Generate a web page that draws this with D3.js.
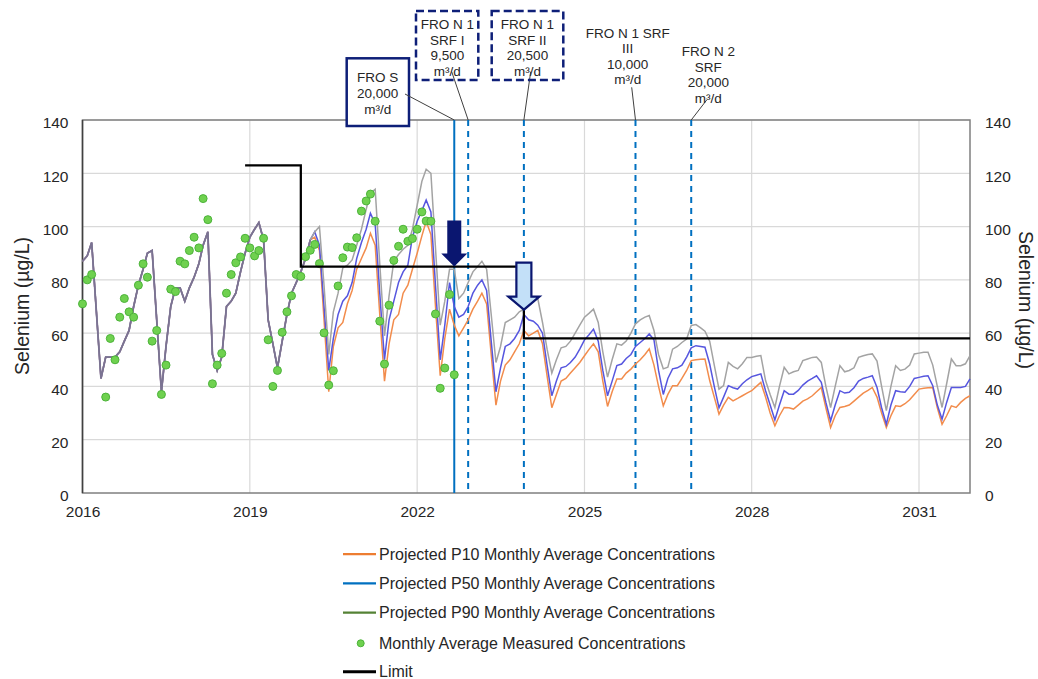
<!DOCTYPE html>
<html>
<head>
<meta charset="utf-8">
<script src="https://d3js.org/d3.v7.min.js"></script>
<style>
body { margin: 0; background: #fff; }
text { font-family: Arial, "Liberation Sans", sans-serif; fill: #262626; }
</style>
</head>
<body>
<svg id="chart" width="1038" height="679"></svg>
<script>

// ---- data (monthly, index 0 = Jan 2016) ----

// shared history Jan 2016 - Feb 2020 (all three projections sit on it)
var histVals = [
  87, 89, 94, 68, 43, 51, 51, 51, 53, 57, 61, 70,      // 2016
  78, 84, 90, 91, 65, 38, 55, 70, 77, 77, 72, 77,      // 2017
  81, 86, 93, 98, 52, 46, 51, 70, 72, 75, 83, 90,      // 2018
  96, 99, 101.5, 95, 65, 56, 47, 57, 67, 75, 79, 83,   // 2019
  88, 95                                              // Jan-Feb 2020
]

// projections Mar 2020 - Dec 2031
var p10Vals = [
  96, 91, 65, 38, 55, 62, 64, 71, 76, 84,
  88, 92, 97.5, 93, 67, 42, 56, 65, 67, 75, 78, 84,
  90, 96.5, 102, 97, 70, 44, 58, 69, 63, 59, 62, 65,
  69, 72, 75, 71, 52, 33, 42, 48, 50, 53, 56, 61,
  59, 60, 61, 56, 44, 32, 37, 42, 43, 45, 47, 49,
  51.5, 54, 56, 53, 42, 32.5, 38, 42.8, 42.8, 45, 46.5, 48.4,
  50, 52, 54.1, 48, 40, 32.7, 37, 40.3, 40.3, 43, 46, 49.7,
  50, 50.2, 50.3, 42.2, 36, 29.6, 33, 35.9, 34.6, 35.5, 36.5, 37.5,
  38.4, 40, 41.5, 36, 30, 25.2, 29, 32.1, 32, 31.5, 33, 34.5,
  35.3, 36.5, 38, 39.6, 32, 24.6, 29, 32.1, 32.5, 33, 34.5, 36,
  37.5, 38.5, 39.6, 36, 30, 24.6, 29, 32.7, 32.5, 33.5, 35, 37,
  39, 39.3, 39.5, 39.6, 32, 25.8, 29, 32.7, 32.1, 34, 35.5, 36.5
]
var p50Vals = [
  98, 93, 70, 46, 58, 67, 72, 74, 79, 88,
  94, 99, 105, 101, 75, 50, 65, 72, 79, 83, 85.5, 96,
  102, 106, 110, 105.5, 78, 50, 63, 79, 70, 66, 67, 70,
  75, 78, 80, 76, 57, 38, 47, 55, 56, 58, 61, 67,
  65, 64.5, 63, 60, 48, 36.5, 42, 47, 47.5, 49, 51, 54,
  57.5, 59.5, 61.5, 57, 46, 36.5, 42, 47.8, 48.4, 50.5, 52, 55,
  56.5, 58, 59.7, 57.5, 46, 37, 43, 46.6, 47, 48, 51, 54.5,
  55.3, 55, 54.7, 48.4, 40, 32, 36, 40.3, 39.5, 39, 41, 42.5,
  43.7, 44.2, 44.7, 38.4, 33, 27.4, 33, 38.4, 37.1, 37.1, 38.5, 40.5,
  42, 43, 44, 41.5, 34, 27.1, 33, 38.4, 37.5, 37.8, 39.5, 42,
  43, 43.5, 44, 39.6, 32, 25.8, 33, 38.4, 38, 37.8, 40, 43,
  43.4, 43.8, 44, 40.3, 33, 27.7, 34, 39.6, 39.6, 39.6, 40, 42.8
]
var p90Vals = [
  98, 100, 78, 52, 68, 75, 84.5, 85.5, 87.5, 93,
  99, 106.5, 112.5, 114, 86, 59, 74, 87, 89.5, 91.5, 93, 99,
  108, 117, 121.5, 120, 92, 63, 72, 84, 84, 73, 75, 79,
  83, 85, 87, 84, 67, 49, 55, 64, 65, 66, 68, 69,
  71, 72, 73, 64, 54, 45, 50, 54.5, 55, 57, 60, 63,
  66, 67.5, 69, 64, 53, 43.5, 50, 56, 55.5, 57, 60, 63.5,
  65, 66, 66.6, 61, 52, 46.6, 47.2, 54, 55, 56.5, 57.8, 62.9,
  63.2, 62, 60.7, 57, 48, 39, 40.3, 49, 47.5, 46.6, 48.5, 50.9,
  50.9, 51.3, 51.6, 42.2, 37, 32.1, 40, 47.2, 44.7, 45.5, 46, 49.7,
  50.3, 50.9, 51, 49, 40, 32.1, 40, 47.8, 45.5, 46, 47, 50.9,
  51.5, 52, 52.2, 49.5, 40, 30.9, 40, 47.8, 46, 46.5, 48, 52.2,
  52.5, 52.8, 52.8, 48, 40, 32.1, 41, 50.3, 47.8, 47.8, 48.5, 51.6
]

// measured monthly averages Jan 2016 - Sep 2022 (null = no sample)
var measuredVals = [
  71, 80, 82, null, null, 36, 58, 50, 66, 73, 68, 66,
  78, 86, 81, 57, 61, 37, 48, 76.5, 75.6, 87, 86, 91,
  96, 92, 110.5, 102.6, 41, 48, 52.4, 75, 82, 86.4, 88.6, 95.6,
  92, 89, 91, 95.6, 57.5, 40, 46, 60.3, 68, 74, 82, 81.3,
  88.7, 91.1, 93.3, 86.1, 60.1, 40.5, 45.9, 77.7, 88.3, 92.3, 92.1, 95.8,
  105.8, 109.6, 112.2, 102, 64.5, 48.4, 70.5, 87.3, 92.6, 99, 94.5, 95.5,
  99, 105.5, 102.1, 102, 67.2, 39.3, 46.9, 74.5, 44.4
]

// limit steps (month index, value)
var limitMonths = [35, 47, 95, 191]
var limitVals = [123, 85, 58, 58]

// plant start-ups
var eventMonths = [80, 83, 95, 119, 131]
var eventDashed = [false, true, true, true, true]
var eventLabels = [
  ["FRO S", "20,000", "m\u00b3/d"],
  ["FRO N 1", "SRF I", "9,500", "m\u00b3/d"],
  ["FRO N 1", "SRF II", "20,500", "m\u00b3/d"],
  ["FRO N 1 SRF", "III", "10,000", "m\u00b3/d"],
  ["FRO N 2", "SRF", "20,000", "m\u00b3/d"]
]
var eventBox = ["solid", "dashed", "dashed", "none", "none"]

// arrows (month index, value at tip)
var arrowMonths = [80, 95]
var arrowVals = [85, 68.8]

var yTicks = [0, 20, 40, 60, 80, 100, 120, 140]
var xTickYears = [2016, 2019, 2022, 2025, 2028, 2031]

var legendNames = [
  "Projected P10 Monthly Average Concentrations",
  "Projected P50 Monthly Average Concentrations",
  "Projected P90 Monthly Average Concentrations",
  "Monthly Average Measured Concentrations",
  "Limit"
]

// ---- layout ----
var plotL = 82.5, plotR = 970, plotT = 120, plotB = 493

var svg = d3.select("#chart")

function month(i) { return new Date(2016, i, 1) }

var x = d3.scaleTime().domain([month(0), month(191)]).range([plotL, plotR])
var y = d3.scaleLinear().domain([0, 140]).range([plotB, plotT])

// gridlines
svg.append("g")
  .selectAll("line").data(yTicks.filter(function(d){ return d > 0 }))
  .enter().append("line")
  .attr("x1", plotL).attr("x2", plotR)
  .attr("y1", function(d){ return y(d) }).attr("y2", function(d){ return y(d) })
  .attr("stroke", "#d9d9d9").attr("stroke-width", 1.2)

svg.append("g")
  .selectAll("line").data(xTickYears.slice(1))
  .enter().append("line")
  .attr("x1", function(d){ return x(new Date(d,0,1)) }).attr("x2", function(d){ return x(new Date(d,0,1)) })
  .attr("y1", plotT).attr("y2", plotB)
  .attr("stroke", "#d9d9d9").attr("stroke-width", 1.2)

// plot border
svg.append("rect")
  .attr("x", plotL).attr("y", plotT).attr("width", plotR-plotL).attr("height", plotB-plotT)
  .attr("fill", "none").attr("stroke", "#7f7f7f").attr("stroke-width", 1.5)
svg.append("line").attr("x1", plotL).attr("x2", plotL).attr("y1", plotT).attr("y2", plotB)
  .attr("stroke", "#404040").attr("stroke-width", 1.5)

// axes
var yl = svg.append("g").attr("transform", "translate(" + plotL + ",0)")
  .call(d3.axisLeft(y).tickValues(yTicks).tickSize(0).tickPadding(14))
var yr = svg.append("g").attr("transform", "translate(" + plotR + ",0)")
  .call(d3.axisRight(y).tickValues(yTicks).tickSize(0).tickPadding(15))
var xb = svg.append("g").attr("transform", "translate(0," + plotB + ")")
  .call(d3.axisBottom(x).tickValues(xTickYears.map(function(d){ return new Date(d,0,1) }))
    .tickFormat(d3.timeFormat("%Y")).tickSize(0).tickPadding(13))
;[yl, yr, xb].forEach(function(g){
  g.select(".domain").remove()
  g.selectAll("text").style("font-size", "15.5px").style("font-family", "Arial, 'Liberation Sans', sans-serif").attr("fill", "#262626")
})
yl.selectAll("text").attr("dy", "0.5em")
yr.selectAll("text").attr("dy", "0.5em")

svg.append("text")
  .attr("transform", "translate(22,306) rotate(-90)")
  .attr("text-anchor", "middle").attr("dominant-baseline", "central")
  .style("font-size", "19.5px")
  .text("Selenium (\u00b5g/L)")
svg.append("text")
  .attr("transform", "translate(1026,300) rotate(90)")
  .attr("text-anchor", "middle").attr("dominant-baseline", "central")
  .style("font-size", "19.5px")
  .text("Selenium (\u00b5g/L)")

// vertical event lines
svg.append("g")
  .selectAll("line").data(eventMonths)
  .enter().append("line")
  .attr("x1", function(d){ return x(month(d)) }).attr("x2", function(d){ return x(month(d)) })
  .attr("y1", plotT).attr("y2", plotB)
  .attr("stroke", "#0070c0").attr("stroke-width", 2)
  .attr("stroke-dasharray", function(d,i){ return eventDashed[i] ? "6,5" : null })

// projection lines
var line = d3.line()
  .x(function(d,i){ return x(month(i)) })
  .y(function(d){ return y(d) })

var series = [
  {vals: histVals.concat(p10Vals), color: "#f28c4c"},
  {vals: histVals.concat(p50Vals), color: "#5656df"},
  {vals: histVals.concat(p90Vals), color: "#a3a3a3"}
]
svg.append("g")
  .selectAll("path").data(series)
  .enter().append("path")
  .attr("d", function(d){ return line(d.vals) })
  .attr("fill", "none")
  .attr("stroke", function(d){ return d.color })
  .attr("stroke-width", 1.5)

// shared history drawn over (the three lines overlap there)
svg.append("path")
  .attr("d", line(histVals))
  .attr("fill", "none").attr("stroke", "#7b7392").attr("stroke-width", 1.8)

// measured dots
svg.append("g")
  .selectAll("circle")
  .data(measuredVals.map(function(v,i){ return {m: i, v: v} }).filter(function(d){ return d.v != null }))
  .enter().append("circle")
  .attr("cx", function(d){ return x(month(d.m)) })
  .attr("cy", function(d){ return y(d.v) })
  .attr("r", 4)
  .attr("fill", "#6fd14f").attr("stroke", "#4cb33a").attr("stroke-width", 1)

// limit
svg.append("path")
  .attr("d", d3.line().curve(d3.curveStepAfter)
    .x(function(d,i){ return x(month(limitMonths[i])) })
    .y(function(d){ return y(d) })(limitVals))
  .attr("fill", "none").attr("stroke", "#000").attr("stroke-width", 2.25)

// arrows
function arrowPath(tx, ty, sw, sl, hw, hl) {
  return "M" + tx + "," + ty +
    "L" + (tx-hw) + "," + (ty-hl) + "L" + (tx-sw/2) + "," + (ty-hl) +
    "L" + (tx-sw/2) + "," + (ty-hl-sl) + "L" + (tx+sw/2) + "," + (ty-hl-sl) +
    "L" + (tx+sw/2) + "," + (ty-hl) + "L" + (tx+hw) + "," + (ty-hl) + "Z"
}
svg.append("path")
  .attr("d", arrowPath(x(month(arrowMonths[0])), y(arrowVals[0]), 14, 33, 13, 13))
  .attr("fill", "#0a1670")
svg.append("path")
  .attr("d", arrowPath(x(month(arrowMonths[1])), y(arrowVals[1]), 15, 34, 15.5, 13))
  .attr("fill", "#c3e0f8").attr("stroke", "#0a1670").attr("stroke-width", 2.2)

// event labels
var labelLayout = [
  {cx: 377.7, y0: 77.3, dy: 16, box: [346.7, 58.3, 62.3, 67.7], from: [405, 94]},
  {cx: 447.3, y0: 24.5, dy: 15.5, box: [416, 11, 62.3, 69], from: [451.7, 71.7]},
  {cx: 527.5, y0: 24.5, dy: 15.5, box: [491.7, 11, 71.6, 69], from: [530.7, 71.7]},
  {cx: 627.7, y0: 33.3, dy: 15.5, box: null, from: [631.7, 87.3]},
  {cx: 708.3, y0: 51.7, dy: 15.5, box: null, from: [706.7, 100]}
]
eventLabels.forEach(function(lines, i) {
  var L = labelLayout[i]
  var g = svg.append("g")
  g.append("line")
    .attr("x1", L.from[0]).attr("y1", L.from[1])
    .attr("x2", x(month(eventMonths[i]))).attr("y2", plotT)
    .attr("stroke", "#404040").attr("stroke-width", 1)
  if (eventBox[i] != "none") {
    g.append("rect")
      .attr("x", L.box[0]).attr("y", L.box[1]).attr("width", L.box[2]).attr("height", L.box[3])
      .attr("fill", eventBox[i] == "solid" ? "#fff" : "none")
      .attr("stroke", "#0e1f78").attr("stroke-width", 2.5)
      .attr("stroke-dasharray", eventBox[i] == "dashed" ? "8,4" : null)
    if (eventBox[i] == "solid") g.select("line").raise()
  }
  g.selectAll("text").data(lines).enter().append("text")
    .attr("x", L.cx).attr("y", function(d,j){ return L.y0 + j*L.dy })
    .attr("text-anchor", "middle").attr("dominant-baseline", "central")
    .style("font-size", "13.5px")
    .text(function(d){ return d })
})

// legend
var legendY = [554, 583.3, 612.7, 643.3, 671.7]
var legendColors = ["#ed7d31", "#0070c0", "#548235", "#6fd14f", "#000"]
var lg = svg.append("g")
legendNames.forEach(function(name, i) {
  if (i == 3) {
    lg.append("circle").attr("cx", 360.7).attr("cy", legendY[i]).attr("r", 3.5)
      .attr("fill", legendColors[i]).attr("stroke", "#4cb33a")
  } else {
    lg.append("line").attr("x1", 343).attr("x2", 376)
      .attr("y1", legendY[i]).attr("y2", legendY[i])
      .attr("stroke", legendColors[i]).attr("stroke-width", i == 4 ? 3 : 2.25)
  }
  lg.append("text").attr("x", 379).attr("y", legendY[i])
    .attr("dominant-baseline", "central")
    .style("font-size", "16px")
    .text(name)
})

</script>
</body>
</html>
